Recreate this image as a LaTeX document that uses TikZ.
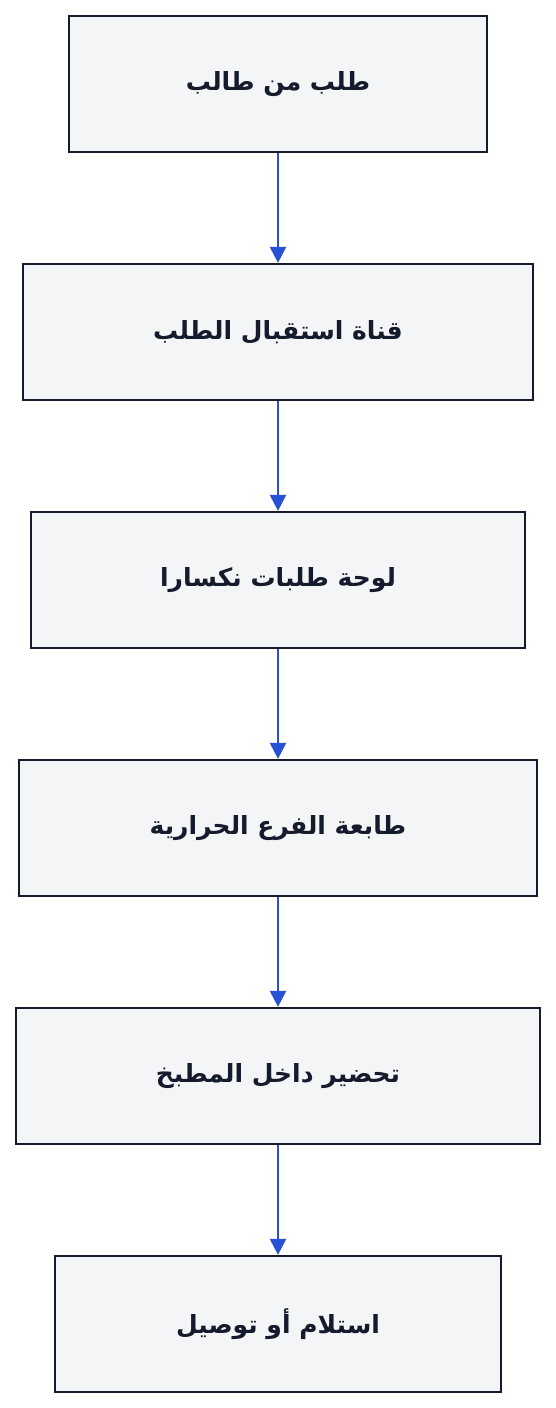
\documentclass[tikz,border=0pt]{standalone}
\usepackage{fontspec}
\usetikzlibrary{arrows.meta}
\TeXXeTstate=1
\newfontfamily\arabicfont[Script=Arabic]{DejaVu Sans}
\definecolor{boxfill}{HTML}{F4F5F7}
\definecolor{boxline}{HTML}{141B2D}
\definecolor{arrowblue}{HTML}{2B50D8}
\tikzset{
  stepbox/.style={draw=boxline, fill=boxfill, line width=2.2pt, rectangle,
    minimum height=136pt, inner sep=0pt, text=boxline,
    font=\arabicfont\bfseries\fontsize{25}{30}\selectfont},
  flow/.style={draw=arrowblue, line width=2pt, -{Triangle[width=16pt,length=16pt]}}
}
\begin{document}
\begin{tikzpicture}[x=1pt,y=-1pt]
\useasboundingbox (0,0) rectangle (556,1408);
\node[stepbox, minimum width=418pt] (b1) at (278,84) {\beginR طلب من طالب\endR};
\node[stepbox, minimum width=510pt] (b2) at (278,332) {\beginR قناة استقبال الطلب\endR};
\node[stepbox, minimum width=494pt] (b3) at (278,580) {\beginR لوحة طلبات نكسارا\endR};
\node[stepbox, minimum width=518pt] (b4) at (278,828) {\beginR طابعة الفرع الحرارية\endR};
\node[stepbox, minimum width=524pt] (b5) at (278,1076) {\beginR تحضير داخل المطبخ\endR};
\node[stepbox, minimum width=446pt] (b6) at (278,1324) {\beginR استلام أو توصيل\endR};
\draw[flow] (b1) -- (b2);
\draw[flow] (b2) -- (b3);
\draw[flow] (b3) -- (b4);
\draw[flow] (b4) -- (b5);
\draw[flow] (b5) -- (b6);
\end{tikzpicture}
\end{document}
